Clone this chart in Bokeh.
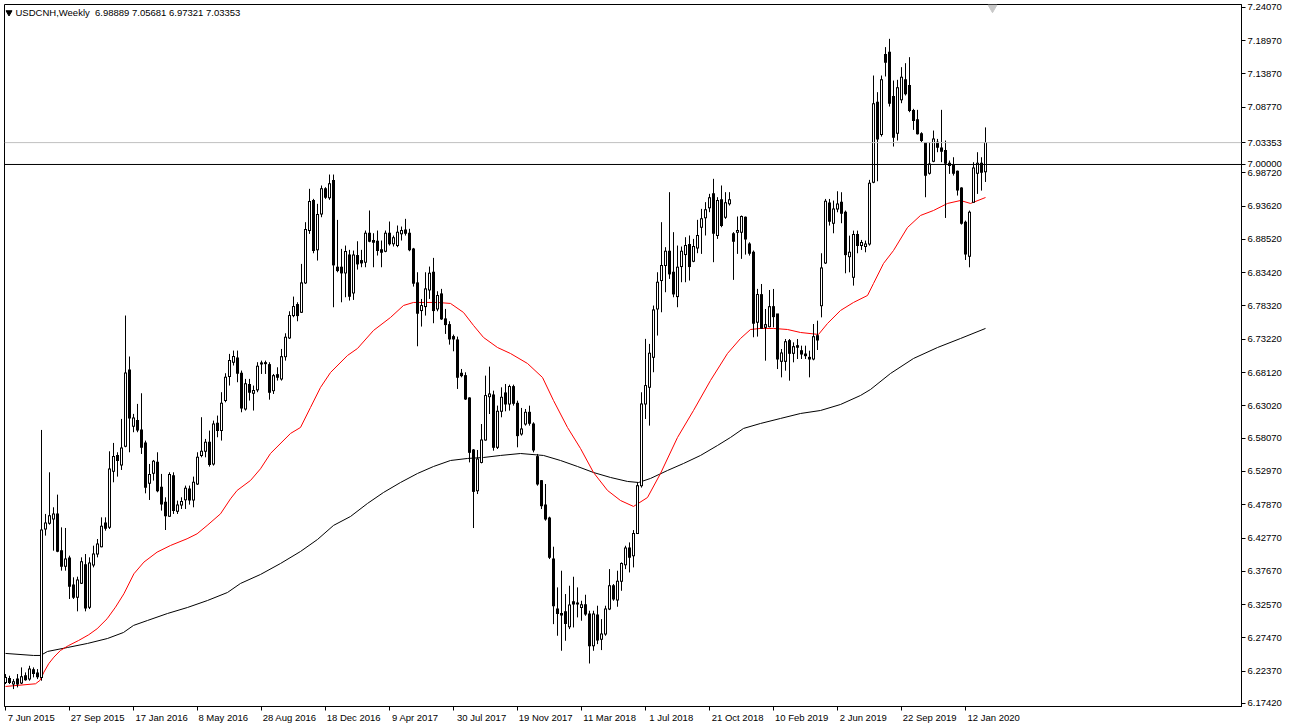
from bokeh.plotting import figure
from bokeh.models import (Range1d, FixedTicker, PrintfTickFormatter, Span, Label,
                          ColumnDataSource)
from bokeh.embed import file_html
from bokeh.resources import INLINE

# ---------------- data (weekly USDCNH candles) ----------------
opens = [
    6.2065, 6.2126, 6.2040, 6.2116, 6.2055, 6.2167, 6.2116, 6.2259, 6.2208, 6.2142,
    6.4416, 6.4503, 6.4569, 6.4646, 6.4083, 6.3843, 6.3971, 6.3557, 6.3368, 6.3583,
    6.3869, 6.3215, 6.3864, 6.4032, 6.4145, 6.4508, 6.4441, 6.5300, 6.5540, 6.5397,
    6.5683, 6.6853, 6.5990, 6.6076, 6.5933, 6.5734, 6.5116, 6.5269, 6.5438, 6.5054,
    6.4824, 6.4610, 6.5233, 6.4687, 6.4784, 6.4865, 6.5029, 6.4860, 6.5106, 6.5540,
    6.5606, 6.5744, 6.5412, 6.6036, 6.5923, 6.6383, 6.6751, 6.6971, 6.7037, 6.6802,
    6.6255, 6.6628, 6.6495, 6.6547, 6.6944, 6.6949, 6.6934, 6.6535, 6.6780, 6.6714,
    6.7056, 6.7343, 6.7685, 6.7854, 6.7736, 6.8186, 6.8988, 6.9448, 6.8692, 6.9243,
    6.9627, 6.9489, 6.9754, 6.8426, 6.8426, 6.8339, 6.8615, 6.8032, 6.8605, 6.8528,
    6.8503, 6.8947, 6.8835, 6.8824, 6.8692, 6.8671, 6.8947, 6.8784, 6.8758, 6.8937,
    6.8998, 6.8947, 6.8707, 6.8186, 6.7762, 6.7823, 6.8078, 6.8349, 6.7787, 6.8017,
    6.7634, 6.7547, 6.7363, 6.7312, 6.6801, 6.6765, 6.6423, 6.5626, 6.5002, 6.5436,
    6.5779, 6.6443, 6.6469, 6.5667, 6.6219, 6.6500, 6.6331, 6.6597, 6.6341, 6.5871,
    6.6024, 6.6203, 6.6024, 6.5524, 6.5156, 6.4783, 6.4584, 6.3955, 6.3188, 6.3122,
    6.3148, 6.2918, 6.3301, 6.3280, 6.3214, 6.3255, 6.3112, 6.2626, 6.3097, 6.2728,
    6.2805, 6.3188, 6.3546, 6.3326, 6.3613, 6.3868, 6.4124, 6.4006, 6.4348, 6.5079,
    6.6331, 6.6587, 6.7046, 6.7787, 6.8222, 6.8452, 6.8671, 6.8349, 6.7976, 6.8436,
    6.8620, 6.8774, 6.8518, 6.8722, 6.9039, 6.9182, 6.9336, 6.9550, 6.8912, 6.9458,
    6.9193, 6.9397, 6.8937, 6.8963, 6.8963, 6.9193, 6.8783, 6.8656, 6.7583, 6.8006,
    6.7505, 6.7515, 6.7822, 6.7710, 6.6984, 6.6984, 6.7301, 6.7107, 6.7224, 6.7147,
    6.7096, 6.7045, 6.7020, 6.7377, 6.7837, 6.8491, 6.9411, 6.9100, 6.9319, 6.9421,
    6.9268, 6.8588, 6.8272, 6.8926, 6.8757, 6.8742, 6.8783, 6.9728, 7.0954, 7.0459,
    7.1685, 7.1721, 7.1041, 7.0479, 7.0990, 7.1297, 7.1210, 7.0827, 7.0684, 7.0469,
    7.0336, 6.9866, 7.0050, 7.0341, 7.0254, 7.0213, 7.0019, 6.9983, 6.9897, 6.9641,
    6.9115, 6.8594, 6.9421, 6.9866, 7.0019, 6.98889]

highs = [
    6.2193, 6.2167, 6.2116, 6.2193, 6.2295, 6.2218, 6.2320, 6.2295, 6.2269, 6.5933,
    6.4646, 6.5284, 6.4748, 6.4942, 6.4441, 6.4431, 6.4007, 6.3675, 6.3685, 6.3981,
    6.4032, 6.3981, 6.4160, 6.4262, 6.4594, 6.4594, 6.5606, 6.5734, 6.5591, 6.6102,
    6.7686, 6.7058, 6.6179, 6.6332, 6.6495, 6.5770, 6.5412, 6.5473, 6.5591, 6.5259,
    6.4901, 6.5284, 6.5284, 6.4850, 6.4901, 6.5080, 6.5080, 6.5218, 6.5591, 6.6128,
    6.5795, 6.5923, 6.6076, 6.6153, 6.6511, 6.6802, 6.7098, 6.7149, 6.7149, 6.6843,
    6.6715, 6.6715, 6.6613, 6.6971, 6.6995, 6.6995, 6.6970, 6.6791, 6.6893, 6.7174,
    6.7414, 6.7751, 6.7976, 6.7889, 6.8477, 6.9116, 6.9627, 6.9473, 6.9397, 6.9678,
    6.9652, 6.9846, 6.9846, 6.9151, 6.8707, 6.8758, 6.8692, 6.8681, 6.8824, 6.8692,
    6.8988, 6.9295, 6.8947, 6.8988, 6.8835, 6.8988, 6.9126, 6.8911, 6.9065, 6.9049,
    6.9167, 6.9014, 6.8722, 6.8349, 6.7940, 6.8349, 6.8436, 6.8569, 6.8058, 6.8094,
    6.7787, 6.7598, 6.7394, 6.7363, 6.6867, 6.6816, 6.6433, 6.5641, 6.5626, 6.6024,
    6.6765, 6.6903, 6.6535, 6.6306, 6.6586, 6.6637, 6.6627, 6.6627, 6.6382, 6.6270,
    6.6254, 6.6305, 6.6050, 6.5565, 6.5166, 6.5105, 6.4604, 6.4144, 6.3521, 6.3776,
    6.3419, 6.3546, 6.3684, 6.3521, 6.3316, 6.3408, 6.3163, 6.3163, 6.3240, 6.3035,
    6.3240, 6.3801, 6.3572, 6.3776, 6.3904, 6.4159, 6.4210, 6.4399, 6.5130, 6.6510,
    6.7328, 6.7251, 6.7839, 6.8349, 6.9116, 6.8733, 6.9576, 6.8963, 6.8758, 6.8743,
    6.8886, 6.8912, 6.8860, 6.9152, 6.9320, 6.9423, 6.9550, 6.9780, 6.9499, 6.9678,
    6.9576, 6.9576, 6.8963, 6.9203, 6.9218, 6.9203, 6.8808, 6.8682, 6.8094, 6.8169,
    6.7786, 6.8077, 6.8093, 6.7710, 6.7173, 6.7326, 6.7326, 6.7275, 6.7326, 6.7224,
    6.7224, 6.7147, 6.7556, 6.7607, 6.8640, 6.9472, 6.9472, 6.9447, 6.9590, 6.9575,
    6.9294, 6.8910, 6.8987, 6.8987, 6.8844, 6.8834, 6.9764, 7.1363, 7.1108, 7.1363,
    7.1798, 7.1925, 7.1286, 7.1297, 7.1491, 7.1552, 7.1644, 7.0852, 7.0837, 7.0494,
    7.0341, 7.0341, 7.0520, 7.0392, 7.0837, 7.0367, 7.0060, 7.0111, 6.9907, 6.9651,
    6.9140, 6.9294, 7.0035, 7.0188, 7.0111, 7.05681]

lows = [
    6.2040, 6.2040, 6.1963, 6.1989, 6.2040, 6.2091, 6.2091, 6.2142, 6.2116, 6.2091,
    6.4314, 6.4482, 6.4083, 6.4060, 6.3777, 6.3777, 6.3343, 6.3343, 6.3154, 6.3573,
    6.3154, 6.3189, 6.3828, 6.3981, 6.4135, 6.4390, 6.4416, 6.5131, 6.5218, 6.5320,
    6.5668, 6.5591, 6.5898, 6.5898, 6.5565, 6.4962, 6.4860, 6.5157, 6.4978, 6.4697,
    6.4400, 6.4605, 6.4646, 6.4646, 6.4722, 6.4722, 6.4789, 6.4748, 6.5090, 6.5514,
    6.5514, 6.5371, 6.5387, 6.5821, 6.5770, 6.6357, 6.6613, 6.6920, 6.6664, 6.6204,
    6.6230, 6.6383, 6.6230, 6.6511, 6.6791, 6.6791, 6.6397, 6.6484, 6.6689, 6.6689,
    6.6995, 6.7327, 6.7660, 6.7598, 6.7726, 6.8170, 6.8937, 6.8640, 6.8528, 6.9192,
    6.9473, 6.9458, 6.7813, 6.8349, 6.7889, 6.7966, 6.7915, 6.7925, 6.8390, 6.8426,
    6.8426, 6.8809, 6.8426, 6.8605, 6.8426, 6.8656, 6.8758, 6.8743, 6.8733, 6.8835,
    6.8911, 6.8671, 6.8129, 6.7215, 6.7517, 6.7685, 6.7940, 6.7568, 6.7751, 6.7619,
    6.7404, 6.7240, 6.7138, 6.6561, 6.6740, 6.6392, 6.5436, 6.4430, 6.4951, 6.5421,
    6.5769, 6.6177, 6.5615, 6.5641, 6.6127, 6.6219, 6.6229, 6.6306, 6.5667, 6.5846,
    6.5999, 6.5999, 6.5590, 6.5079, 6.4721, 6.4543, 6.3955, 6.2958, 6.2780, 6.2550,
    6.2703, 6.2882, 6.2907, 6.3061, 6.3010, 6.3086, 6.2355, 6.2550, 6.2652, 6.2560,
    6.2780, 6.3173, 6.3316, 6.3224, 6.3469, 6.3801, 6.3750, 6.3827, 6.4338, 6.5050,
    6.6101, 6.5999, 6.6817, 6.7379, 6.7736, 6.8043, 6.8247, 6.7966, 6.7813, 6.8196,
    6.8196, 6.8222, 6.8503, 6.8641, 6.8630, 6.8912, 6.9269, 6.8503, 6.8860, 6.9039,
    6.9167, 6.9371, 6.8232, 6.8630, 6.8554, 6.8619, 6.8604, 6.7353, 6.7363, 6.7480,
    6.6994, 6.7505, 6.7505, 6.6866, 6.6739, 6.6841, 6.6688, 6.6969, 6.7020, 6.7020,
    6.7020, 6.6739, 6.7000, 6.7158, 6.7658, 6.8476, 6.9064, 6.8946, 6.9268, 6.9100,
    6.8333, 6.8348, 6.8144, 6.8640, 6.8691, 6.8655, 6.8757, 6.9713, 6.9743, 7.0428,
    7.1348, 7.0888, 7.0275, 7.0367, 7.0939, 7.1057, 7.0801, 7.0530, 7.0459, 7.0341,
    6.9498, 6.9845, 7.0035, 7.0188, 7.0035, 6.9181, 6.9856, 6.9830, 6.9524, 6.9079,
    6.8537, 6.8425, 6.9421, 6.9549, 6.9600, 6.97321]

closes = [
    6.2142, 6.2065, 6.2075, 6.2040, 6.2152, 6.2106, 6.2269, 6.2203, 6.2152, 6.4400,
    6.4508, 6.4620, 6.4646, 6.4073, 6.3843, 6.3956, 6.3537, 6.3368, 6.3634, 6.3915,
    6.3205, 6.3894, 6.4032, 6.4186, 6.4457, 6.4426, 6.5335, 6.5525, 6.5463, 6.5657,
    6.6807, 6.6117, 6.6117, 6.5933, 6.5668, 6.5054, 6.5249, 6.5453, 6.5003, 6.4799,
    6.4620, 6.5249, 6.4697, 6.4784, 6.4835, 6.5039, 6.4860, 6.5131, 6.5514, 6.5606,
    6.5744, 6.5402, 6.6025, 6.5923, 6.6342, 6.6741, 6.6996, 6.7058, 6.6802, 6.6271,
    6.6639, 6.6511, 6.6536, 6.6909, 6.6960, 6.6964, 6.6510, 6.6765, 6.6740, 6.7056,
    6.7353, 6.7685, 6.7823, 6.7685, 6.8186, 6.9003, 6.9433, 6.8681, 6.9233, 6.9627,
    6.9499, 6.9703, 6.8462, 6.8375, 6.8339, 6.8666, 6.7981, 6.8615, 6.8477, 6.8492,
    6.8947, 6.8824, 6.8809, 6.8681, 6.8656, 6.8947, 6.8784, 6.8876, 6.8962, 6.8988,
    6.8947, 6.8692, 6.8181, 6.7721, 6.7838, 6.8094, 6.8334, 6.7762, 6.7992, 6.7634,
    6.7547, 6.7327, 6.7327, 6.6740, 6.6765, 6.6407, 6.5590, 6.4992, 6.5488, 6.5779,
    6.6459, 6.6484, 6.5667, 6.6219, 6.6433, 6.6331, 6.6597, 6.6341, 6.5846, 6.5948,
    6.6203, 6.6035, 6.5626, 6.5105, 6.4772, 6.4568, 6.3981, 6.3240, 6.3122, 6.3097,
    6.2969, 6.3250, 6.3265, 6.3265, 6.3255, 6.3112, 6.2626, 6.3112, 6.2713, 6.2805,
    6.3188, 6.3546, 6.3342, 6.3613, 6.3888, 6.4124, 6.3981, 6.4348, 6.5079, 6.6331,
    6.6612, 6.7108, 6.7772, 6.8196, 6.8452, 6.8671, 6.8324, 6.8017, 6.8426, 6.8671,
    6.8758, 6.8436, 6.8743, 6.8912, 6.9167, 6.9305, 6.9489, 6.8947, 6.9448, 6.9065,
    6.9412, 6.9458, 6.8825, 6.8988, 6.9203, 6.8860, 6.8640, 6.7568, 6.8007, 6.7490,
    6.7546, 6.7822, 6.7669, 6.7020, 6.7112, 6.7285, 6.7107, 6.7209, 6.7200, 6.7096,
    6.7071, 6.7020, 6.7362, 6.7311, 6.8415, 6.9437, 6.9130, 6.9319, 6.9396, 6.9253,
    6.8619, 6.8655, 6.8926, 6.8757, 6.8803, 6.8783, 6.9713, 7.0929, 7.0392, 7.1297,
    7.1568, 7.0939, 7.0418, 7.1174, 7.1338, 7.1082, 7.0827, 7.0673, 7.0469, 7.0367,
    6.9835, 7.0009, 7.0392, 7.0264, 7.0203, 7.0019, 6.9983, 6.9866, 6.9610, 6.9099,
    6.8629, 6.9268, 6.9948, 7.0019, 6.9881, 7.03353]

# moving averages (red = fast, black = slow), read at candle positions
red_ma_idx = [0, 7.5, 8.6, 9.6, 10.8, 12.1, 13.75, 15.8, 18.3, 20.8,
              22.9, 25.4, 27.5, 29.6, 32.1, 34.6, 37.9, 41.25, 45.4, 47.9,
              50.4, 53.75, 56.25, 57.9, 61.25, 63.75, 66.25, 71.25, 73.75, 76.25,
              78.75, 81.25, 85.5, 88, 92, 96.25, 99.5, 102, 108, 111.25,
              114.5, 117, 119.5, 123, 126.25, 130.5, 134.25, 137, 140.5, 143.75,
              147, 150.5, 153.75, 157, 160.5, 163.75, 168, 172, 176.25, 180.5,
              183.75, 186.25, 188.75, 192, 195.5, 198.75, 203.25, 205.5, 208.75, 212,
              215.5, 217, 219.5, 222, 225.5, 228.75, 232, 235.5, 238.75, 241.25, 245]
red_ma_val = [6.2003, 6.2044, 6.2095, 6.2222, 6.2351, 6.2452, 6.2555, 6.2631, 6.2708, 6.2795,
              6.2887, 6.3040, 6.3218, 6.3423, 6.3729, 6.3908, 6.4061, 6.4163, 6.4266, 6.4342,
              6.4469, 6.4648, 6.4878, 6.5006, 6.5159, 6.5338, 6.5573, 6.5879, 6.5971, 6.6278,
              6.6584, 6.6813, 6.7074, 6.7181, 6.7457, 6.7656, 6.7840, 6.7886, 6.7886, 6.7871,
              6.7733, 6.7534, 6.7350, 6.7196, 6.7104, 6.6951, 6.6737, 6.6384, 6.5971, 6.5649,
              6.5281, 6.5006, 6.4852, 6.4761, 6.4898, 6.5266, 6.5818, 6.6231, 6.6691, 6.7105,
              6.7334, 6.7472, 6.7488, 6.7488, 6.7472, 6.7426, 6.7396, 6.7564, 6.7763, 6.7886,
              6.7993, 6.8177, 6.8483, 6.8682, 6.9035, 6.9219, 6.9295, 6.9403, 6.9448, 6.9403, 6.9494]

black_ma_idx = [0, 7, 8.75, 10.5, 15.5, 20.5, 25.5, 29.5, 32, 35.5,
                40.5, 45.5, 50.5, 55.5, 58.75, 63.75, 68.75, 73.75, 78, 82,
                86.25, 90.5, 94.5, 98.75, 103, 107, 111.25, 115.5, 119.5, 123.75,
                128.75, 134.5, 138.75, 143, 147, 151.25, 155.5, 158.25, 161.25, 165.5,
                169.5, 173.75, 178, 181.25, 184.5, 188.75, 193.75, 198.75, 203.75, 208.75,
                213.75, 216.25, 221.25, 227, 233, 238.75, 245]
black_ma_val = [6.2509, 6.2478, 6.2478, 6.2539, 6.2600, 6.2662, 6.2738, 6.2830, 6.2938, 6.3014,
                6.3121, 6.3213, 6.3320, 6.3443, 6.3581, 6.3719, 6.3887, 6.4071, 6.4255, 6.4470,
                6.4607, 6.4807, 6.4975, 6.5128, 6.5266, 6.5373, 6.5465, 6.5496, 6.5511, 6.5542,
                6.5572, 6.5542, 6.5465, 6.5373, 6.5281, 6.5205, 6.5144, 6.5128, 6.5190, 6.5312,
                6.5419, 6.5542, 6.5695, 6.5818, 6.5956, 6.6032, 6.6109, 6.6185, 6.6231, 6.6323,
                6.6461, 6.6553, 6.6798, 6.7028, 6.7196, 6.7334, 6.7488]

date_tick_idx = [0, 16, 32, 48, 64, 80, 96, 112, 128, 144, 160, 176, 192, 208, 224, 240]
date_labels = ["7 Jun 2015", "27 Sep 2015", "17 Jan 2016", "8 May 2016", "28 Aug 2016",
               "18 Dec 2016", "9 Apr 2017", "30 Jul 2017", "19 Nov 2017", "11 Mar 2018",
               "1 Jul 2018", "21 Oct 2018", "10 Feb 2019", "2 Jun 2019", "22 Sep 2019",
               "12 Jan 2020"]
price_ticks = [7.2407, 7.1897, 7.1387, 7.0877, 6.9872, 6.9362, 6.8852, 6.8342, 6.7832,
               6.7322, 6.6812, 6.6302, 6.5807, 6.5297, 6.4787, 6.4277, 6.3767, 6.3257,
               6.2747, 6.2237, 6.1742]
bid_price = 7.03353
level_price = 7.0
title_text = "USDCNH,Weekly\u00a0 6.98889 7.05681 6.97321 7.03353"

assert len(opens) == len(highs) == len(lows) == len(closes)

# ---------------- figure ----------------
FONT = "Liberation Sans"
FS = "9.5px"
W, H = 1288, 727
BL, BT, BR, BB = 4, 4, 47, 21
X0 = -0.25
X1 = X0 + (W - BL - BR) / 4.0      # 4 px per weekly candle
Y0, Y1 = 6.1696, 7.2451
PX = (H - BT - BB) / (Y1 - Y0)      # pixels per price unit
ONE = 1.0 / PX                      # one pixel in price units

n = len(closes)
tops = [max(o, c) for o, c in zip(opens, closes)]
bots = [min(o, c) for o, c in zip(opens, closes)]
src = ColumnDataSource(dict(x=list(range(n)), high=highs, low=lows,
                            top=[t + 0.5 * ONE for t in tops],
                            bottom=[b - 0.5 * ONE for b in bots]))
# hollow (white) interior of rising candles
bull = [i for i in range(n) if closes[i] >= opens[i] and tops[i] - bots[i] > ONE]
bull_src = ColumnDataSource(dict(x=bull,
                                 top=[tops[i] - 0.5 * ONE for i in bull],
                                 bottom=[bots[i] + 0.5 * ONE for i in bull]))

p = figure(width=W, height=H, x_range=Range1d(X0, X1), y_range=Range1d(Y0, Y1),
           y_axis_location="right", output_backend="svg", toolbar_location=None,
           min_border_left=BL, min_border_top=BT, min_border_right=BR, min_border_bottom=BB)
p.grid.visible = False
p.outline_line_color = "black"
p.outline_line_width = 1
p.background_fill_color = "white"
p.border_fill_color = "white"

p.line(black_ma_idx, black_ma_val, line_color="black", line_width=1)
p.line(red_ma_idx, red_ma_val, line_color="#ff0000", line_width=1)
p.segment(x0="x", y0="low", x1="x", y1="high", source=src, line_color="black", line_width=1)
p.vbar(x="x", width=0.75, top="top", bottom="bottom", source=src,
       fill_color="black", line_color=None)
p.vbar(x="x", width=0.25, top="top", bottom="bottom", source=bull_src,
       fill_color="white", line_color=None)

p.add_layout(Span(location=bid_price, dimension="width", line_color="#c0c0c0", line_width=1))
p.add_layout(Span(location=level_price, dimension="width", line_color="black", line_width=1))

# x axis: minor tick marks sit on the candles, labels start just right of each mark
label_pos = [round(i + (len(s) * 4.75 / 2 + 2) / 4.0, 3) for i, s in zip(date_tick_idx, date_labels)]
xa = p.xaxis[0]
xa.ticker = FixedTicker(ticks=label_pos, minor_ticks=date_tick_idx)
xa.major_label_overrides = {pos: s for pos, s in zip(label_pos, date_labels)}
xa.major_tick_in = 0
xa.major_tick_out = 0
xa.minor_tick_in = 0
xa.minor_tick_out = 4
xa.minor_tick_line_color = "black"
xa.major_label_standoff = 1
xa.major_label_text_font = FONT
xa.major_label_text_font_size = FS
xa.major_label_text_color = "black"
xa.axis_line_color = "black"

# y axis on the right
ya = p.yaxis[0]
ya.ticker = FixedTicker(ticks=price_ticks + [bid_price, level_price])
ya.formatter = PrintfTickFormatter(format="%.5f")
ya.major_tick_in = 0
ya.major_tick_out = 4
ya.minor_tick_in = 0
ya.minor_tick_out = 0
ya.major_label_standoff = 2
ya.major_label_text_font = FONT
ya.major_label_text_font_size = FS
ya.major_label_text_color = "black"
ya.axis_line_color = "black"

# title in the corner
p.scatter([0.875], [Y1 - 8.0 / PX], marker="inverted_triangle", size=6,
          fill_color="black", line_color="black")
p.add_layout(Label(x=2.5, y=Y1 - 8.0 / PX, text=title_text, text_color="black",
                   text_font=FONT, text_font_size=FS, text_baseline="middle", text_align="left"))

# chart-shift marker at the top
p.scatter([246.75], [Y1 - 3.0 / PX], marker="inverted_triangle", size=9,
          fill_color="#c8c8c8", line_color="#c8c8c8")

open("out.html", "w").write(file_html(p, INLINE))
